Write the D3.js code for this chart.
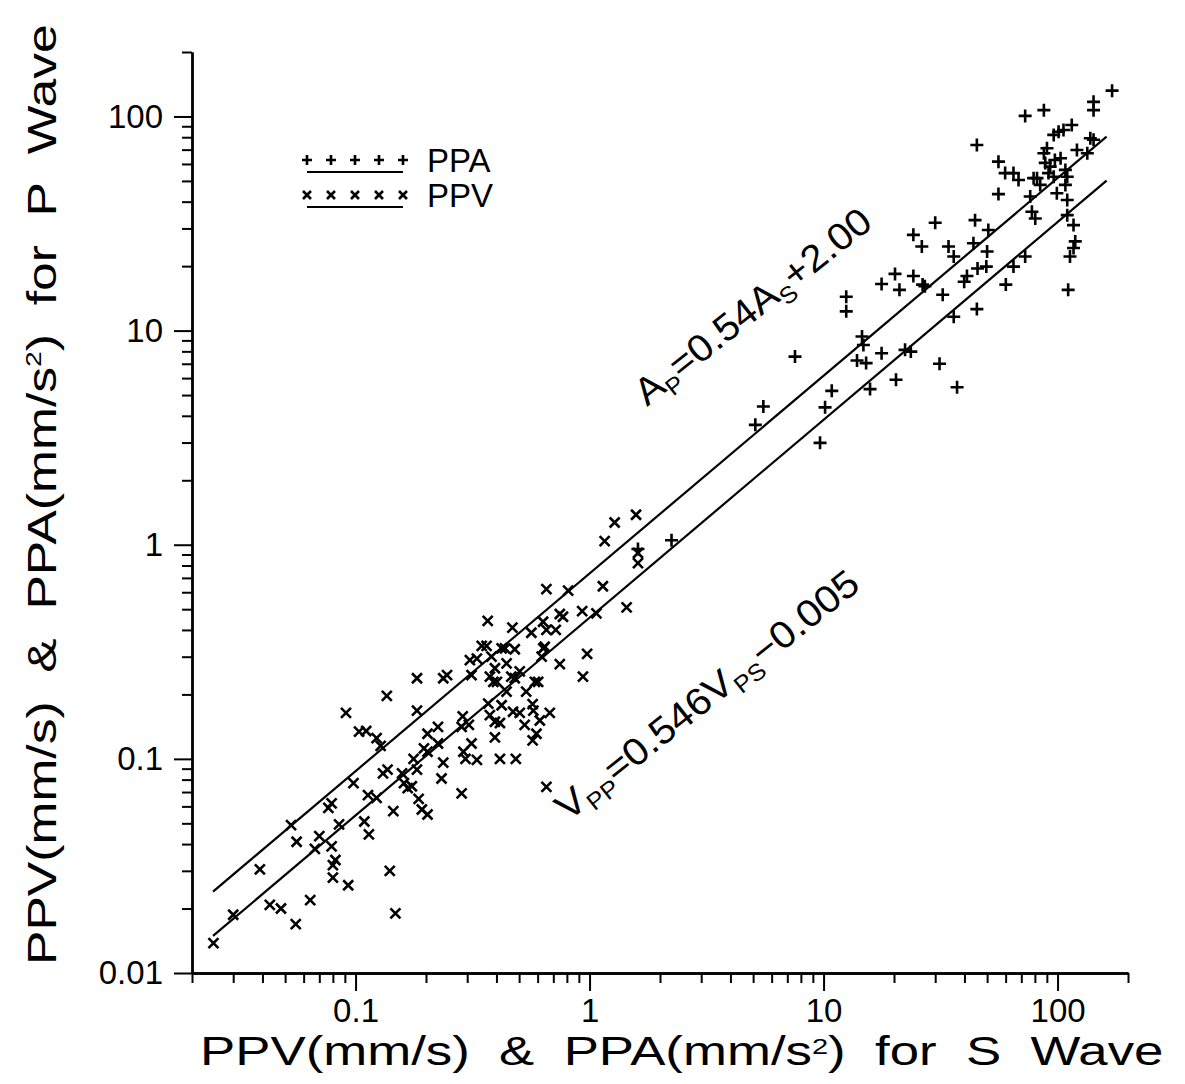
<!DOCTYPE html>
<html><head><meta charset="utf-8">
<script src="https://cdn.jsdelivr.net/npm/d3@7"></script>
<style>
body{margin:0;background:#fff;}
svg text{font-family:"Liberation Sans",Arial,sans-serif;fill:#000;}
</style></head>
<body>
<svg id="chart" width="1185" height="1084"></svg>
<script>
// ---------- data ----------
const ppvPoints = [
 [0.0247,0.0138],[0.030,0.0187],[0.039,0.0305],[0.043,0.0208],[0.048,0.020],[0.0555,0.0169],
 [0.064,0.0219],[0.056,0.041],[0.053,0.049],[0.067,0.038],[0.070,0.0436],[0.079,0.039],
 [0.080,0.0319],[0.082,0.0337],[0.080,0.0279],[0.093,0.0257],[0.0765,0.059],[0.079,0.062],
 [0.085,0.0494],[0.098,0.077],[0.091,0.164],[0.1035,0.134],[0.111,0.135],[0.123,0.125],
 [0.128,0.115],[0.109,0.051],[0.114,0.0444],[0.113,0.0677],[0.123,0.0657],[0.140,0.030],
 [0.148,0.019],[0.161,0.077],[0.167,0.073],
 [1.58,1.38],[1.28,1.27],[1.16,1.04],[1.61,0.915],[1.61,0.82],[1.14,0.64],[1.44,0.51],
 [0.93,0.49],[1.07,0.478],[0.81,0.61],[0.654,0.62],[0.746,0.475],[0.77,0.461],[0.717,0.40],
 [0.633,0.437],[0.564,0.388],[0.654,0.40],[0.468,0.41],[0.367,0.441],[0.346,0.337],
 [0.363,0.337],[0.421,0.328],[0.435,0.328],[0.479,0.325],[0.308,0.289],[0.33,0.294],
 [0.381,0.30],[0.442,0.279],[0.394,0.265],[0.643,0.334],[0.624,0.30],[0.634,0.328],
 [0.746,0.277],[0.976,0.309],[0.937,0.242],[0.503,0.256],[0.479,0.238],[0.463,0.242],
 [0.375,0.242],[0.388,0.229],[0.402,0.229],[0.313,0.246],[0.246,0.246],[0.237,0.238],
 [0.183,0.238],[0.136,0.197],[0.183,0.168],[0.536,0.206],[0.584,0.229],[0.603,0.229],
 [0.442,0.206],[0.421,0.178],[0.369,0.181],[0.471,0.166],[0.503,0.164],[0.571,0.18],
 [0.575,0.168],[0.676,0.164],[0.613,0.151],[0.528,0.144],[0.375,0.16],[0.394,0.149],
 [0.414,0.147],[0.287,0.158],[0.305,0.144],[0.284,0.141],[0.225,0.141],[0.203,0.131],
 [0.225,0.118],[0.196,0.112],[0.203,0.108],[0.177,0.100],[0.593,0.131],[0.571,0.122],
 [0.394,0.126],[0.313,0.118],[0.289,0.108],[0.295,0.100],[0.33,0.099],[0.414,0.100],
 [0.484,0.100],[0.237,0.096],[0.233,0.081],[0.284,0.069],[0.654,0.074],[0.158,0.0855],
 [0.174,0.0745],[0.183,0.089],[0.137,0.089],[0.131,0.0855],[0.186,0.065],[0.145,0.057],
 [0.192,0.058],[0.203,0.055]
];
const ppaPoints = [
 [1.61,0.955],[2.24,1.05],[5.11,3.63],[5.53,4.42],[7.55,7.56],[9.66,2.99],[10.15,4.38],
 [10.84,5.23],[12.5,14.4],[12.5,12.3],[13.9,7.25],[14.6,9.38],[14.8,8.57],[15.2,7.05],
 [15.8,5.33],[17.7,7.84],[17.7,16.5],[20.2,18.4],[20.4,5.89],[21.1,15.5],[22.3,8.13],
 [23.6,7.98],[24.2,18.0],[24.2,28.0],[26.3,24.7],[26.5,16.4],[27.1,16.1],[30.0,31.9],
 [31.3,7.0],[32.3,14.7],[34.2,24.7],[36.0,22.2],[36.0,11.6],[37.2,5.44],[39.9,16.9],
 [41.0,18.0],[43.7,25.6],[44.4,32.8],[45.2,12.6],[45.5,19.5],[49.6,19.9],[50.0,23.4],
 [50.6,29.5],[45.2,73.6],[55.9,61.5],[59.7,54.4],[64.8,54.4],[68.1,50.5],[55.9,43.4],
 [60.1,16.4],[64.8,19.9],[72.7,22.2],[76.4,42.3],[79.0,51.5],[77.7,35.9],[80.3,33.4],
 [72.7,100.6],[87.4,107],[142.5,117],[142.5,107],[171,132],[115,91.2],[106,86.4],
 [101,84.8],[96.3,82.0],[138,79.1],[142.5,77.8],[90.1,71.0],[87.4,67.3],[103,63.8],
 [121,69.7],[134,67.3],[93.0,58.3],[91.5,54.4],[81.7,51.5],[84.3,47.9],[96.3,52.3],
 [108,56.3],[110,52.3],[108,47.9],[99.3,43.8],[110,40.7],[110,34.6],[117,31.1],
 [119,26.1],[117,24.3],[113,22.2],[111,15.5],[88.6,60.7],[97.4,62.6]
];
const ppaFit = [[0.0246,0.024],[162,80.5]];
const ppvFit = [[0.0246,0.0149],[162,50.2]];
const xMajor = [0.1,1,10,100];
const xMajorLabels = ["0.1","1","10","100"];
const yMajor = [0.01,0.1,1,10,100];
const yMajorLabels = ["0.01","0.1","1","10","100"];
const legendItems = [{name:"PPA", marker:"plus"},{name:"PPV", marker:"cross"}];

// ---------- drawing ----------
const svg = d3.select("#chart");
const x = d3.scaleLog().domain([0.02,200]).range([192,1128]);
const y = d3.scaleLog().domain([0.01,200]).range([973,52]);

const decades=[0.01,0.1,1,10,100];
const mults=[2,3,4,5,6,7,8,9];
const xMinor=[], yMinor=[];
decades.forEach(d=>mults.forEach(m=>{
  const v=+(d*m).toPrecision(3);
  if(v>=0.02&&v<=200) xMinor.push(v);
  if(v>=0.01&&v<=200) yMinor.push(v);
}));

const FONT='"Liberation Sans", Arial, sans-serif';
function styleAxis(g){
  g.selectAll("path.domain").attr("stroke","#000").attr("stroke-width",2.4);
  g.selectAll(".tick line").attr("stroke","#000").attr("stroke-width",2);
  g.selectAll("text").attr("font-size",33).attr("font-family",FONT).attr("fill","#000");
}

const gx = svg.append("g").attr("transform","translate(0,973)");
gx.append("g").call(d3.axisBottom(x).tickValues(xMinor).tickSize(10).tickSizeOuter(0).tickFormat(""));
gx.append("g").call(d3.axisBottom(x).tickValues(xMajor).tickSize(18).tickSizeOuter(0).tickPadding(8)
   .tickFormat((d,i)=>xMajorLabels[i]));
styleAxis(gx);

const gy = svg.append("g").attr("transform","translate(192,0)");
gy.append("g").call(d3.axisLeft(y).tickValues(yMinor).tickSize(10).tickSizeOuter(0).tickFormat(""));
gy.append("g").call(d3.axisLeft(y).tickValues(yMajor).tickSize(18).tickSizeOuter(0).tickPadding(11)
   .tickFormat((d,i)=>yMajorLabels[i]));
styleAxis(gy);

// fit lines
const line = d3.line().x(d=>x(d[0])).y(d=>y(d[1]));
[ppaFit, ppvFit].forEach(f=>{
  svg.append("path").attr("d",line(f)).attr("fill","none").attr("stroke","#000").attr("stroke-width",2.2);
});

const plusPath = s=>`M${-s},0H${s}M0,${-s}V${s}`;
const crossPath = s=>`M${-s},${-s}L${s},${s}M${-s},${s}L${s},${-s}`;

svg.append("g").selectAll("path").data(ppvPoints).join("path")
  .attr("transform",d=>`translate(${x(d[0])},${y(d[1])})`)
  .attr("d",crossPath(5)).attr("stroke","#000").attr("stroke-width",2.6).attr("fill","none");
svg.append("g").selectAll("path").data(ppaPoints).join("path")
  .attr("transform",d=>`translate(${x(d[0])},${y(d[1])})`)
  .attr("d",plusPath(6.5)).attr("stroke","#000").attr("stroke-width",2.6).attr("fill","none");

// legend
const lg = svg.append("g");
legendItems.forEach((it,i)=>{
  const yy = 160 + i*35;
  const g = lg.append("g");
  d3.range(5).forEach(k=>{
    g.append("path").attr("transform",`translate(${307+k*24},${yy})`)
     .attr("d", it.marker==="plus"?plusPath(5):crossPath(4))
     .attr("stroke","#000").attr("stroke-width",2.6).attr("fill","none");
  });
  g.append("line").attr("x1",307).attr("x2",403).attr("y1",yy+12).attr("y2",yy+12)
   .attr("stroke","#000").attr("stroke-width",2.2);
  g.append("text").attr("x",427).attr("y",yy+12).attr("font-size",33).text(it.name);
});

// annotations
function eq(parts, tx, ty, ang, fs, sx){
  const t = svg.append("text").attr("transform",`translate(${tx},${ty}) rotate(${ang}) scale(${sx},1)`)
    .attr("font-size",fs);
  let shifted=false;
  parts.forEach(p=>{
    const ts=t.append("tspan").text(p[0]);
    if(p[1]==="sub"){ ts.attr("font-size",fs*0.62).attr("dy",shifted?0:fs*0.22); shifted=true; }
    else { if(shifted){ ts.attr("dy",-fs*0.22); shifted=false; } }
  });
}
eq([["A"],["P","sub"],["=0.54A"],["S","sub"],["+2.00"]], 647, 407, -38.5, 38, 1.06);
eq([["V"],["PP","sub"],["=0.546V"],["PS","sub"],["\u22120.005"]], 568, 822, -38.5, 38, 1.08);

// axis titles
function title(tx,ty,rot,sx,wave,supDy){
  const t = svg.append("text").attr("transform",`translate(${tx},${ty}) rotate(${rot}) scale(${sx},1)`)
     .attr("font-size",40).style("white-space","pre");
  t.append("tspan").text("PPV(mm/s)  &  PPA(mm/s");
  t.append("tspan").attr("font-size",22).attr("dy",-supDy).text("2");
  t.append("tspan").attr("dy",supDy).text(")  for  "+wave+"  Wave");
}
title(200,1065,0,1.32,"S",11);
title(56,965,-90,1.29,"P",15);
</script>
</body></html>
